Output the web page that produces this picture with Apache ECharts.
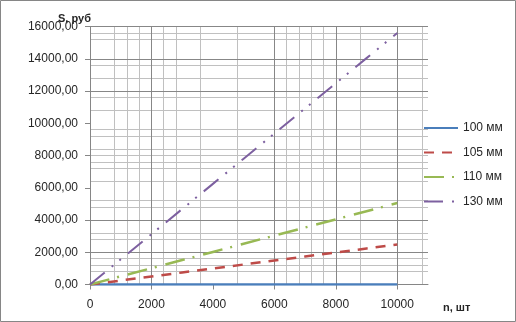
<!DOCTYPE html>
<html><head><meta charset="utf-8">
<script src="https://cdn.jsdelivr.net/npm/echarts@6/dist/echarts.min.js"></script>
<style>html,body{margin:0;padding:0;background:#fff}#c{width:516px;height:322px}</style>
</head><body><div id="c"></div>
<script>
// ---- data ----
const nValues = [0, 1000, 2000, 3000, 4000, 5000, 6000, 7000, 8000, 9000, 10000];
const s100 = [0, 0, 0, 0, 0, 0, 0, 0, 0, 0, 0];
const s105 = [0, 248, 496, 744, 992, 1240, 1488, 1736, 1984, 2232, 2480];
const s110 = [0, 505, 1010, 1515, 2020, 2525, 3030, 3535, 4040, 4545, 5050];
const s130 = [0, 1560, 3120, 4680, 6240, 7800, 9360, 10920, 12480, 14040, 15600];
const seriesNames = ['100 мм', '105 мм', '110 мм', '130 мм'];
const xTicks = [0, 2000, 4000, 6000, 8000, 10000];
const yTicks = [0, 2000, 4000, 6000, 8000, 10000, 12000, 14000, 16000];
const xMajorGrid = [2000, 6000, 8000, 10000];
const xMinorGrid = [800, 1200, 1600, 2400, 2800, 3600, 4800, 6400, 6800, 7200, 7600, 8800, 10800];
const yMajorGrid = [2000, 4000, 12000, 14000, 16000];
const yMinorGrid = [800, 1200, 1600, 2800, 3200, 4800, 5200, 6400, 7200, 7600, 8000, 8400, 9200, 9600, 10800, 11600, 12800, 13600, 15200, 15600];

const FONT = 'Liberation Sans';
const TXT = '#262626';
const pair = arr => nValues.map((x, i) => [x, arr[i]]);
const gridLines = (xs, ys) => xs.map(v => ({ xAxis: v })).concat(ys.map(v => ({ yAxis: v })));

const chart = echarts.init(document.getElementById('c'), null, { renderer: 'canvas' });
chart.setOption({
  animation: false,
  backgroundColor: '#fff',
  textStyle: { fontFamily: FONT },
  grid: { left: 90, right: 88, top: 26.5, bottom: 37.5, containLabel: false },
  xAxis: {
    type: 'value', min: 0, max: 11000, interval: 2000,
    axisLine: { show: true, onZero: false, lineStyle: { color: '#868686', width: 1 } },
    axisTick: { show: true, length: 5, inside: false, customValues: xTicks, lineStyle: { color: '#868686' } },
    axisLabel: { customValues: xTicks, margin: 14, color: TXT, fontFamily: FONT, fontSize: 12,
      formatter: v => String(v) },
    splitLine: { show: false }
  },
  yAxis: {
    type: 'value', min: 0, max: 16000, interval: 2000,
    axisLine: { show: true, lineStyle: { color: '#868686', width: 1 } },
    axisTick: { show: true, length: 5, inside: false, customValues: yTicks, lineStyle: { color: '#868686' } },
    axisLabel: { customValues: yTicks, margin: 12, color: TXT, fontFamily: FONT, fontSize: 12,
      formatter: v => v.toFixed(2).replace('.', ',') },
    splitLine: { show: false }
  },
  legend: {
    data: seriesNames,
    orient: 'vertical', left: 418, top: 117,
    itemWidth: 34, itemHeight: 12, itemGap: 12.5,
    textStyle: { fontFamily: FONT, fontSize: 12, color: TXT },
    itemStyle: { opacity: 0, borderWidth: 0 }
  },
  graphic: [
    { type: 'rect', shape: { x: 0.5, y: 0.5, width: 515, height: 321 }, style: { fill: 'none', stroke: '#868686', lineWidth: 1 }, silent: true },
    { type: 'text', left: 58, top: 13, style: { text: 'S, руб', font: 'bold 11px ' + FONT, fill: TXT }, silent: true },
    { type: 'text', left: 443, top: 302, style: { text: 'n, шт', font: 'bold 11px ' + FONT, fill: TXT }, silent: true }
  ],
  series: [
    { type: 'line', name: '__minor', data: [], silent: true, z: 0,
      markLine: { silent: true, z: 0, symbol: ['none', 'none'], label: { show: false }, animation: false,
        emphasis: { disabled: true },
        lineStyle: { color: '#c0c0c0', width: 1, type: 'solid' }, data: gridLines(xMinorGrid, yMinorGrid) } },
    { type: 'line', name: '__major', data: [], silent: true, z: 0,
      markLine: { silent: true, z: 0, symbol: ['none', 'none'], label: { show: false }, animation: false,
        emphasis: { disabled: true },
        lineStyle: { color: '#878787', width: 1, type: 'solid' }, data: gridLines(xMajorGrid, yMajorGrid) } },
    { type: 'line', name: seriesNames[0], data: pair(s100), symbol: 'none', showSymbol: false, z: 3,
      lineStyle: { color: '#4a7ebb', width: 2.5, type: 'solid' }, itemStyle: { color: '#4a7ebb' } },
    { type: 'line', name: seriesNames[1], data: pair(s105), symbol: 'none', showSymbol: false, z: 3,
      lineStyle: { color: '#be4b48', width: 2.5, type: [10, 8] }, itemStyle: { color: '#be4b48' } },
    { type: 'line', name: seriesNames[2], data: pair(s110), symbol: 'none', showSymbol: false, z: 3,
      lineStyle: { color: '#98b954', width: 2.5, type: [20, 8, 2, 9] }, itemStyle: { color: '#98b954' } },
    { type: 'line', name: seriesNames[3], data: pair(s130), symbol: 'none', showSymbol: false, z: 3,
      lineStyle: { color: '#7d60a0', width: 2, type: [19, 9, 2, 8, 2, 9] }, itemStyle: { color: '#7d60a0' } }
  ]
});
</script></body></html>
